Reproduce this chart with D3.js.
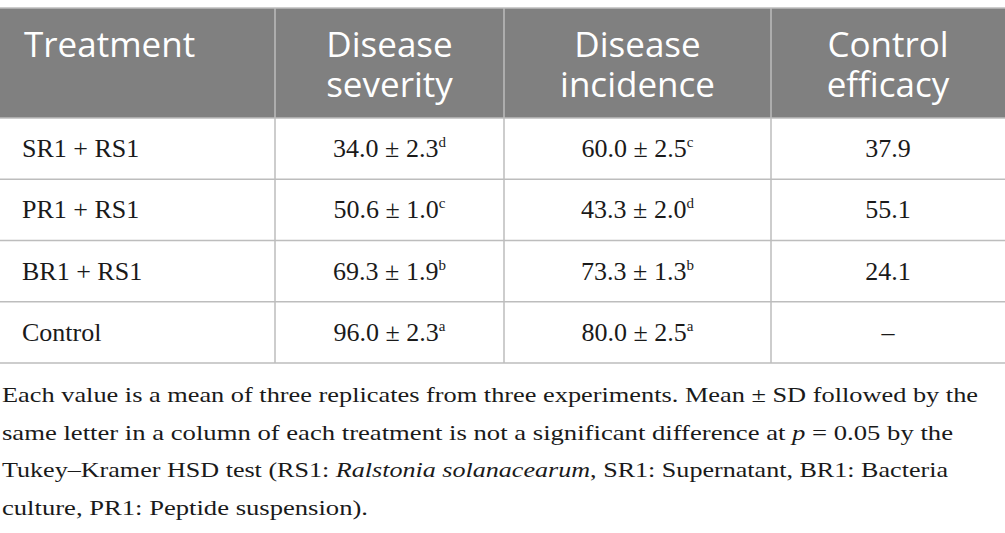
<!DOCTYPE html>
<html>
<head>
<meta charset="utf-8">
<script src="https://cdn.jsdelivr.net/npm/d3@7"></script>
<style>
  html, body { margin: 0; padding: 0; background: #fff; }
  svg { display: block; }
  .head { font-family: "Open Sans", "Noto Sans", sans-serif; fill: #fff; font-size: 35px; font-weight: 400; }
  .cell { font-family: "Liberation Serif", "DejaVu Serif", serif; fill: #1a1a1a; font-size: 26px; }
  .note { font-family: "Liberation Serif", "DejaVu Serif", serif; fill: #1a1a1a; font-size: 21.5px; }
</style>
</head>
<body>
<svg id="chart" width="1005" height="533"></svg>
<script>
// ---- data ----
const headers = [["Treatment"], ["Disease", "severity"], ["Disease", "incidence"], ["Control", "efficacy"]];
const treatments = ["SR1 + RS1", "PR1 + RS1", "BR1 + RS1", "Control"];
const severityMean = ["34.0", "50.6", "69.3", "96.0"];
const severitySD = ["2.3", "1.0", "1.9", "2.3"];
const severityLetter = ["d", "c", "b", "a"];
const incidenceMean = ["60.0", "43.3", "73.3", "80.0"];
const incidenceSD = ["2.5", "2.0", "1.3", "2.5"];
const incidenceLetter = ["c", "d", "b", "a"];
const efficacy = ["37.9", "55.1", "24.1", "\u2013"];

// footnote lines, [text, italic?] pieces
const noteLines = [
  [["Each value is a mean of three replicates from three experiments. Mean \u00b1 SD followed by the", false]],
  [["same letter in a column of each treatment is not a significant difference at ", false], ["p", true], [" = 0.05 by the", false]],
  [["Tukey\u2013Kramer HSD test (RS1: ", false], ["Ralstonia solanacearum", true], [", SR1: Supernatant, BR1: Bacteria", false]],
  [["culture, PR1: Peptide suspension).", false]]
];
const noteWidths = [976, 951, 946, 366];

// ---- layout ----
const W = 1005;
const colEdges = [0, 275, 504, 771, 1005];
const headTop = 8, headBottom = 118, tableBottom = 363;
const lineColor = "#bdbdbd";

const svg = d3.select("#chart");

const y = d3.scaleBand()
  .domain(treatments)
  .range([headBottom, tableBottom]);

const colCenter = (i) => (colEdges[i] + colEdges[i + 1]) / 2;

//=== header band ===
svg.append("rect")
  .attr("x", 0).attr("y", headTop)
  .attr("width", W).attr("height", headBottom - headTop)
  .attr("fill", "#808080");

svg.append("line")
  .attr("x1", 0).attr("x2", W)
  .attr("y1", headTop).attr("y2", headTop)
  .attr("stroke", lineColor).attr("stroke-width", 1.5);

headers.forEach((lines, i) => {
  const x = i === 0 ? 24 : colCenter(i);
  lines.forEach((s, k) => {
    svg.append("text")
      .attr("class", "head")
      .attr("text-anchor", i === 0 ? "start" : "middle")
      .attr("x", x)
      .attr("y", 57 + k * 40)
      .text(s);
  });
});

//=== grid lines ===
svg.selectAll(".col-line")
  .data(colEdges.slice(1, -1))
  .join("line")
  .attr("class", "col-line")
  .attr("x1", (d) => d).attr("x2", (d) => d)
  .attr("y1", headTop).attr("y2", tableBottom)
  .attr("stroke", lineColor).attr("stroke-width", 1.5);

svg.selectAll(".row-line")
  .data(treatments)
  .join("line")
  .attr("class", "row-line")
  .attr("x1", 0).attr("x2", W)
  .attr("y1", (d) => y(d) + y.bandwidth())
  .attr("y2", (d) => y(d) + y.bandwidth())
  .attr("stroke", lineColor).attr("stroke-width", 1.5);

svg.append("line")
  .attr("x1", 0).attr("x2", W)
  .attr("y1", headBottom).attr("y2", headBottom)
  .attr("stroke", lineColor).attr("stroke-width", 1.5);

//=== body cells ===
const baseline = (d) => y(d) + 39;

svg.selectAll(".treat")
  .data(treatments)
  .join("text")
  .attr("class", "cell treat")
  .attr("x", 22)
  .attr("y", baseline)
  .text((d) => d);

function valueColumn(col, means, sds, letters) {
  treatments.forEach((d, i) => {
    const t = svg.append("text")
      .attr("class", "cell")
      .attr("text-anchor", "middle")
      .attr("x", colCenter(col))
      .attr("y", baseline(d));
    t.append("tspan").text(`${means[i]} \u00b1 ${sds[i]}`);
    t.append("tspan")
      .attr("font-size", "15px")
      .attr("dy", -10)
      .text(letters[i]);
  });
}

valueColumn(1, severityMean, severitySD, severityLetter);
valueColumn(2, incidenceMean, incidenceSD, incidenceLetter);

svg.selectAll(".eff")
  .data(treatments)
  .join("text")
  .attr("class", "cell eff")
  .attr("text-anchor", "middle")
  .attr("x", colCenter(3))
  .attr("y", baseline)
  .text((d, i) => efficacy[i]);

//=== footnote ===
noteLines.forEach((pieces, k) => {
  const t = svg.append("text")
    .attr("class", "note")
    .attr("x", 2)
    .attr("y", 402 + k * 37.7);
  pieces.forEach(([s, it]) => {
    t.append("tspan")
      .attr("font-style", it ? "italic" : null)
      .text(s);
  });
  t.attr("textLength", noteWidths[k]).attr("lengthAdjust", "spacingAndGlyphs");
});
</script>
</body>
</html>
